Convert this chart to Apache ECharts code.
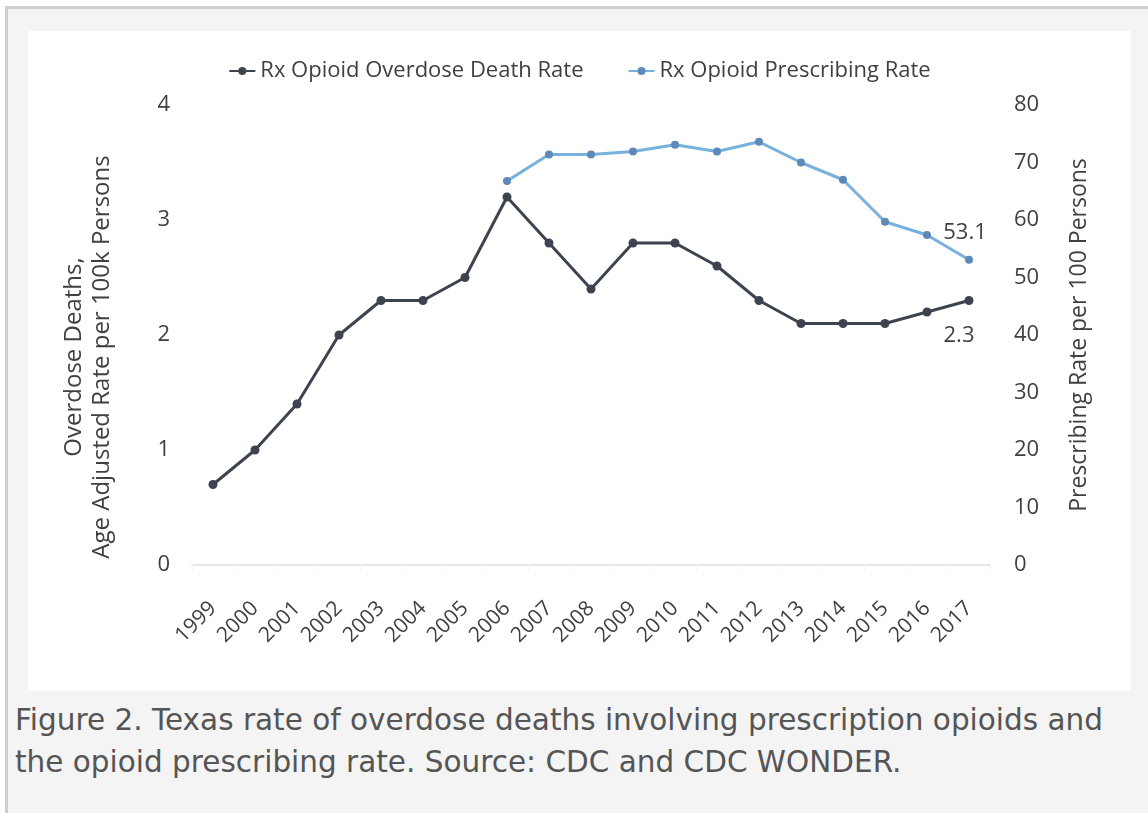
<!DOCTYPE html>
<html>
<head>
<meta charset="utf-8">
<script src="https://cdn.jsdelivr.net/npm/echarts@6/dist/echarts.min.js"></script>
<style>
    html, body { margin: 0; padding: 0; background: #fff; }
    #frame {
        position: absolute; left: 5px; top: 6px; width: 1143px; height: 807px;
        background: #f4f4f4; border-left: 3px solid #cfcfcf; border-top: 3px solid #cfcfcf;
    }
    #chart { position: absolute; left: 28px; top: 31px; width: 1103px; height: 660px; background: #fff; }
    #caption {
        position: absolute; left: 15px; top: 699px; width: 1130px; margin: 0; white-space: nowrap;
        font-family: "DejaVu Sans", sans-serif; font-size: 29.5px; line-height: 42px; color: #555;
    }
</style>
</head>
<body>
<div id="frame"></div>
<div id="chart"></div>
<p id="caption">Figure 2. Texas rate of overdose deaths involving prescription opioids and<br>the opioid prescribing rate. Source: CDC and CDC WONDER.</p>
<script>
// data
var years = ['1999', '2000', '2001', '2002', '2003', '2004', '2005', '2006', '2007', '2008',
    '2009', '2010', '2011', '2012', '2013', '2014', '2015', '2016', '2017'];
var deathRate = [0.7, 1.0, 1.4, 2.0, 2.3, 2.3, 2.5, 3.2, 2.8, 2.4, 2.8, 2.8, 2.6, 2.3, 2.1, 2.1, 2.1, 2.2, 2.3];
var prescribingRate = [null, null, null, null, null, null, null, 66.8, 71.4, 71.4,
    71.9, 73.1, 71.9, 73.6, 70.0, 67.0, 59.7, 57.4, 53.1];
var leftTicks = [0, 4, 1];     // min, max, interval
var rightTicks = [0, 80, 10];

var font = 'Open Sans';
var txt = '#404040';

function lastLabel(arr, pos, offset) {
    // only the final point carries a value label
    return arr.map(function (v, i) {
        if (i !== arr.length - 1) return v;
        return {
            value: v,
            label: { show: true, position: pos, distance: 12, offset: offset, fontSize: 22, color: txt, fontFamily: font }
        };
    });
}

var myChart = echarts.init(document.getElementById('chart'));

var option = {
    animation: false,
    textStyle: { fontFamily: font },
    legend: {
        top: 24,
        left: 'center',
        itemGap: 44,
        itemWidth: 26,
        itemHeight: 10,
        textStyle: { fontSize: 22, color: txt, fontFamily: font }
    },
    grid: { left: 164, right: 141, top: 74, bottom: 126 },
    xAxis: {
        type: 'category',
        data: years,
        boundaryGap: true,
        axisLine: { lineStyle: { color: '#e6e6e6', width: 2 } },
        axisTick: { show: true, lineStyle: { color: '#efefef' } },
        axisLabel: { rotate: 45, fontSize: 21, color: txt, margin: 40, padding: [14, 0, 0, 0], fontFamily: font }
    },
    yAxis: [{
        type: 'value',
        min: leftTicks[0], max: leftTicks[1], interval: leftTicks[2],
        name: 'Overdose Deaths,\nAge Adjusted Rate per 100k Persons',
        nameLocation: 'middle',
        nameRotate: 90,
        nameGap: 76,
        nameTextStyle: { fontSize: 24, color: txt, lineHeight: 28, padding: [0, 44, 0, 0], fontFamily: font },
        splitLine: { show: false },
        axisLine: { show: false },
        axisTick: { show: false },
        axisLabel: { fontSize: 22, color: txt, margin: 22, fontFamily: font }
    }, {
        type: 'value',
        position: 'right',
        min: rightTicks[0], max: rightTicks[1], interval: rightTicks[2],
        name: 'Prescribing Rate per 100 Persons',
        nameLocation: 'middle',
        nameRotate: 90,
        nameGap: 78,
        nameTextStyle: { fontSize: 23, color: txt, fontFamily: font },
        splitLine: { show: false },
        axisLine: { show: false },
        axisTick: { show: false },
        axisLabel: { fontSize: 22, color: txt, margin: 24, fontFamily: font }
    }],
    series: [{
        name: 'Rx Opioid Overdose Death Rate',
        type: 'line',
        yAxisIndex: 0,
        data: lastLabel(deathRate, 'bottom', [-10, 8]),
        symbol: 'circle',
        symbolSize: 9,
        lineStyle: { color: '#3e4350', width: 3 },
        itemStyle: { color: '#3e4350' }
    }, {
        name: 'Rx Opioid Prescribing Rate',
        type: 'line',
        yAxisIndex: 1,
        data: lastLabel(prescribingRate, 'top', [-4, 0]),
        symbol: 'circle',
        symbolSize: 8,
        lineStyle: { color: '#79b1de', width: 3 },
        itemStyle: { color: '#5d8ab6' }
    }]
};
myChart.setOption(option);
</script>
</body>
</html>
